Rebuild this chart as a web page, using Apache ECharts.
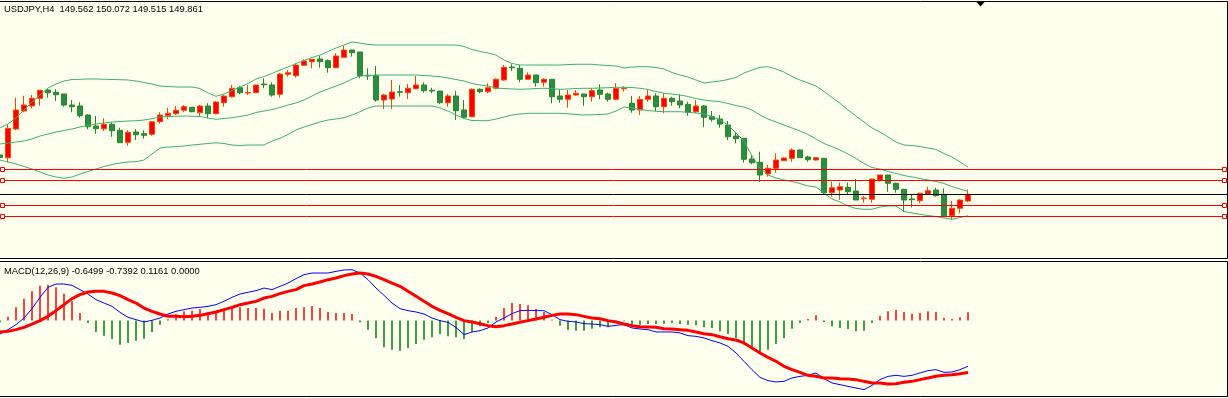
<!DOCTYPE html>
<html lang="en">
<head>
    <meta charset="UTF-8">
    <title>USDJPY,H4</title>
    <script src="https://cdn.jsdelivr.net/npm/echarts/dist/echarts.min.js"></script>
    <style>
        html, body {
            margin: 0;
            padding: 0;
            background: #FFFFF0;
        }
        #chart {
            width: 1228px;
            height: 398px;
        }
    </style>
</head>
<body>
    <div id="chart"></div>
    <script>
        // USDJPY H4 candles
        var open = [151.59,151.471,152.734,153.526,153.746,154.085,154.45,154.349,154.274,153.79,
            153.746,153.35,152.866,152.747,152.941,152.677,152.149,152.602,152.527,152.501,
            153.055,153.319,153.407,153.557,153.689,153.451,153.746,153.407,153.891,154.155,
            154.551,154.318,154.331,154.714,154.67,154.261,155.141,155.079,155.537,155.695,
            155.814,155.739,155.431,155.889,156.21,156.122,155.097,155.079,154.01,154.054,
            154.375,154.331,154.507,154.67,154.437,154.406,153.891,154.186,153.57,153.275,
            154.481,154.375,154.525,154.89,155.462,155.405,154.921,155.11,154.789,154.921,
            154.186,154.041,154.23,154.274,154.155,154.45,154.274,154.041,154.507,153.865,
            153.57,154.041,154.186,153.715,154.085,153.966,153.821,153.495,153.746,153.275,
            153.174,152.91,152.426,152.325,151.414,151.269,150.754,151.005,151.339,151.445,
            151.81,151.502,151.37,151.445,149.931,150.05,150.169,150.006,149.667,149.641,
            150.49,150.71,150.345,150.081,149.654,149.579,149.874,150.05,149.861,148.919,
            149.245,149.562];
        var high = [151.678,152.941,154.111,154.199,154.23,154.437,154.481,154.481,154.274,154.01,
            153.909,153.381,153.306,153.205,153.029,152.791,152.677,152.734,152.677,153.086,
            153.469,153.671,153.746,153.79,153.689,153.79,153.865,153.966,154.23,154.67,
            154.626,154.67,154.67,154.965,154.789,155.185,155.33,155.625,155.801,155.801,
            155.946,155.801,156.065,156.386,156.21,156.122,155.405,155.506,154.274,154.89,
            154.67,154.714,155.066,154.789,154.551,154.406,154.274,154.406,154.01,154.525,
            154.525,154.745,154.965,155.55,155.581,155.55,155.229,155.11,154.965,154.921,
            154.481,154.45,154.45,154.274,154.525,154.701,154.331,154.745,154.626,154.186,
            154.186,154.45,154.305,154.305,154.155,154.261,153.935,154.01,153.79,153.526,
            153.35,153.086,152.615,152.325,151.559,151.735,151.15,151.665,151.489,151.885,
            151.841,151.559,151.489,151.445,150.415,150.371,150.371,150.534,149.786,150.534,
            150.71,150.71,150.371,150.081,149.861,149.931,150.195,150.151,150.125,149.566,
            149.641,150.072];
        var low = [151.282,151.269,152.69,153.469,153.645,153.759,154.111,153.966,153.715,153.469,
            153.231,152.721,152.527,152.646,152.395,152.131,151.999,152.25,152.307,152.439,
            152.967,153.161,153.35,153.469,153.469,153.275,153.205,153.381,153.715,154.111,
            154.261,154.23,154.305,154.525,154.155,154.111,155.035,154.991,155.506,155.405,
            155.431,155.211,155.405,155.889,155.915,154.965,154.89,153.935,153.614,153.614,
            154.155,154.054,154.481,154.331,154.305,153.834,153.715,153.13,153.205,153.249,
            154.305,154.305,154.481,154.846,155.286,154.789,154.89,154.595,154.595,153.865,
            153.891,153.671,154.199,153.759,153.935,154.041,153.935,154.01,154.375,153.451,
            153.35,153.935,153.526,153.425,153.759,153.645,153.319,153.425,152.809,153.055,
            152.791,152.25,152.105,151.251,151.181,150.415,150.635,150.811,151.339,151.295,
            151.471,151.295,151.339,149.874,149.755,149.61,149.83,149.61,149.491,149.491,
            150.415,149.975,149.931,149.095,149.289,149.465,149.83,149.755,148.875,148.761,
            149.025,149.515];
        var close = [151.48,152.765,153.57,153.79,154.085,154.437,154.331,154.243,153.79,153.715,
            153.319,152.835,152.747,152.941,152.659,152.131,152.589,152.483,152.457,153.055,
            153.35,153.425,153.557,153.715,153.495,153.746,153.407,153.922,154.186,154.525,
            154.331,154.34,154.67,154.683,154.23,155.154,155.211,155.55,155.726,155.801,
            155.695,155.431,155.946,156.21,156.091,155.079,155.066,154.01,154.23,154.362,
            154.349,154.525,154.67,154.419,154.406,153.891,154.186,153.539,153.249,154.481,
            154.375,154.551,154.921,155.449,155.431,154.921,155.11,154.771,154.921,154.155,
            154.041,154.23,154.305,154.155,154.419,154.261,154.041,154.525,154.538,153.57,
            154.041,154.186,153.715,154.085,153.935,153.79,153.469,153.746,153.249,153.161,
            152.954,152.395,152.307,151.401,151.251,150.71,151.005,151.37,151.458,151.81,
            151.471,151.383,151.471,149.931,150.151,150.195,149.975,149.61,149.698,150.534,
            150.71,150.345,150.081,149.61,149.623,149.905,150.019,149.799,148.875,149.245,
            149.61,149.861];

        // Bollinger bands (20,2)
        var bbUpper = [152.778,152.954,153.218,153.57,153.922,154.23,154.538,154.714,154.846,154.912,
            154.921,154.934,154.934,154.921,154.912,154.903,154.89,154.846,154.78,154.714,
            154.626,154.604,154.582,154.582,154.582,154.516,154.318,154.173,154.274,154.428,
            154.582,154.736,154.934,155.044,155.176,155.33,155.462,155.616,155.748,155.88,
            155.99,156.144,156.298,156.43,156.562,156.518,156.452,156.43,156.43,156.43,
            156.43,156.43,156.43,156.43,156.43,156.43,156.43,156.43,156.364,156.232,
            156.144,156.078,155.99,155.77,155.616,155.55,155.55,155.55,155.55,155.55,
            155.55,155.572,155.581,155.581,155.581,155.55,155.528,155.506,155.418,155.462,
            155.475,155.475,155.44,155.374,155.22,155.11,155.022,154.89,154.758,154.802,
            154.846,154.912,155.0,155.198,155.33,155.449,155.475,155.374,155.242,155.044,
            154.89,154.758,154.626,154.384,154.12,153.865,153.57,153.306,153.042,152.778,
            152.602,152.382,152.162,152.03,152.008,151.964,151.898,151.832,151.656,151.502,
            151.282,151.062];
        var bbMiddle = [152.074,152.118,152.162,152.206,152.294,152.426,152.514,152.602,152.668,152.734,
            152.822,152.888,152.954,152.998,153.042,153.064,153.086,153.099,153.13,153.187,
            153.262,153.284,153.297,153.306,153.297,153.284,153.218,153.161,153.196,153.231,
            153.284,153.35,153.46,153.526,153.592,153.68,153.79,153.878,154.01,154.186,
            154.362,154.494,154.626,154.758,154.934,155.066,155.088,155.11,155.11,155.11,
            155.11,155.11,155.11,155.088,155.066,155.035,154.978,154.912,154.846,154.736,
            154.67,154.626,154.538,154.516,154.494,154.481,154.494,154.516,154.525,154.507,
            154.481,154.494,154.516,154.525,154.525,154.538,154.551,154.569,154.569,154.56,
            154.525,154.472,154.384,154.305,154.274,154.23,154.164,154.076,154.01,153.966,
            153.935,153.856,153.768,153.702,153.57,153.35,153.174,153.042,152.91,152.778,
            152.646,152.492,152.294,152.096,151.964,151.81,151.634,151.436,151.216,151.04,
            150.974,150.864,150.776,150.688,150.622,150.556,150.49,150.424,150.336,150.204,
            150.094,149.984];
        var bbLower = [151.37,151.282,151.194,151.084,150.974,150.842,150.71,150.622,150.565,150.622,
            150.754,150.864,150.974,151.084,151.172,151.238,151.282,151.295,151.37,151.634,
            151.898,151.942,151.955,151.986,152.03,152.061,152.096,152.127,152.096,152.03,
            152.008,152.03,152.03,152.03,152.206,152.325,152.492,152.69,152.822,152.932,
            153.042,153.13,153.174,153.231,153.35,153.495,153.658,153.746,153.746,153.746,
            153.746,153.746,153.746,153.746,153.746,153.658,153.526,153.35,153.196,153.108,
            153.099,153.099,153.174,153.262,153.35,153.394,153.425,153.425,153.425,153.425,
            153.425,153.403,153.372,153.35,153.359,153.372,153.394,153.526,153.702,153.658,
            153.592,153.548,153.513,153.495,153.495,153.495,153.469,153.438,153.394,153.284,
            153.13,152.91,152.558,152.206,151.546,151.018,150.71,150.578,150.49,150.424,
            150.336,150.226,150.182,149.918,149.654,149.522,149.346,149.236,149.201,149.201,
            149.302,149.346,149.346,149.104,149.038,148.981,148.928,148.884,148.818,148.761,
            148.84,148.919];

        // MACD(12,26,9)
        var macdHist = [-0.026,0.054,0.187,0.31,0.414,0.495,0.509,0.471,0.381,0.272,
            0.106,-0.035,-0.163,-0.215,-0.263,-0.343,-0.319,-0.286,-0.258,-0.163,
            -0.059,0.017,0.09,0.13,0.139,0.163,0.121,0.13,0.154,0.187,
            0.187,0.177,0.177,0.168,0.106,0.139,0.139,0.177,0.187,0.206,
            0.177,0.121,0.106,0.106,0.092,-0.026,-0.13,-0.248,-0.381,-0.414,
            -0.428,-0.39,-0.334,-0.272,-0.239,-0.192,-0.225,-0.239,-0.263,-0.163,
            -0.083,-0.035,0.05,0.177,0.248,0.234,0.215,0.163,0.121,0.012,
            -0.073,-0.13,-0.144,-0.144,-0.116,-0.097,-0.097,-0.035,-0.012,-0.059,
            -0.059,-0.05,-0.05,-0.045,-0.035,-0.05,-0.059,-0.069,-0.097,-0.106,
            -0.154,-0.192,-0.248,-0.343,-0.39,-0.452,-0.414,-0.334,-0.248,-0.116,
            -0.035,0.021,0.073,-0.021,-0.083,-0.106,-0.121,-0.154,-0.144,-0.035,
            0.069,0.13,0.149,0.121,0.097,0.106,0.13,0.121,0.035,0.021,
            0.045,0.1161];
        var macdMain = [-0.192,-0.13,-0.059,0.035,0.168,0.329,0.471,0.518,0.518,0.499,
            0.438,0.376,0.296,0.248,0.201,0.116,0.045,0.012,-0.021,0.002,
            0.035,0.092,0.13,0.154,0.177,0.187,0.201,0.225,0.272,0.329,
            0.376,0.4,0.424,0.461,0.438,0.485,0.532,0.594,0.651,0.674,
            0.674,0.674,0.698,0.717,0.722,0.674,0.58,0.461,0.357,0.248,
            0.168,0.14,0.121,0.092,0.035,-0.002,-0.026,-0.097,-0.201,-0.163,
            -0.144,-0.106,-0.021,0.035,0.097,0.14,0.144,0.14,0.14,0.083,
            0.012,-0.012,-0.021,-0.045,-0.05,-0.059,-0.083,-0.069,-0.059,-0.106,
            -0.121,-0.13,-0.163,-0.163,-0.163,-0.177,-0.215,-0.225,-0.248,-0.286,
            -0.319,-0.367,-0.461,-0.58,-0.698,-0.807,-0.854,-0.873,-0.864,-0.816,
            -0.793,-0.779,-0.745,-0.826,-0.887,-0.911,-0.935,-0.958,-0.982,-0.921,
            -0.84,-0.793,-0.779,-0.793,-0.779,-0.745,-0.712,-0.698,-0.736,-0.731,
            -0.698,-0.6499];
        var macdSignal = [-0.163,-0.154,-0.13,-0.097,-0.05,-0.002,0.059,0.14,0.225,0.31,
            0.367,0.405,0.414,0.414,0.39,0.353,0.296,0.248,0.177,0.13,
            0.092,0.059,0.059,0.054,0.059,0.073,0.097,0.121,0.154,0.187,
            0.225,0.248,0.272,0.319,0.343,0.381,0.414,0.438,0.495,0.518,
            0.547,0.58,0.603,0.637,0.66,0.674,0.66,0.627,0.58,0.532,
            0.485,0.414,0.343,0.272,0.201,0.144,0.097,0.045,-0.002,-0.021,
            -0.045,-0.073,-0.088,-0.073,-0.05,-0.026,-0.002,0.021,0.045,0.073,
            0.092,0.092,0.083,0.059,0.035,0.026,-0.002,-0.021,-0.05,-0.073,
            -0.088,-0.092,-0.097,-0.116,-0.121,-0.13,-0.14,-0.163,-0.187,-0.201,
            -0.23,-0.258,-0.277,-0.319,-0.39,-0.461,-0.523,-0.58,-0.651,-0.698,
            -0.736,-0.779,-0.793,-0.816,-0.816,-0.826,-0.831,-0.84,-0.864,-0.887,
            -0.887,-0.902,-0.897,-0.878,-0.864,-0.84,-0.816,-0.793,-0.779,-0.769,
            -0.755,-0.7392];

        // horizontal levels drawn on the chart
        var levels = [150.961, 150.477, 149.377, 148.893];

        var slots = 154; // bar slots across the window, the empty ones are the chart shift
        var last = close.length - 1;

        var cats = [];
        for (var i = 0; i < slots; i++) cats.push(i);
        var candles = open.map(function (o, i) {
            return [o, close[i], low[i], high[i]];
        });

        var marks = levels.map(function (v) {
            return { yAxis: v, lineStyle: { color: '#FF0000' } };
        });
        marks.push({ yAxis: close[last], lineStyle: { color: '#000000' } });

        var title = 'USDJPY,H4  ' + open[last].toFixed(3) + ' ' + high[last].toFixed(3) + ' ' +
            low[last].toFixed(3) + ' ' + close[last].toFixed(3);
        var macdTitle = 'MACD(12,26,9) ' + macdMain[last].toFixed(4) + ' ' + macdSignal[last].toFixed(4) +
            ' ' + macdHist[last].toFixed(4) + ' 0.0000';

        var font = '9.4px "Liberation Sans", Arial, sans-serif';

        var chart = echarts.init(document.getElementById('chart'));

        function bandLine(data, color) {
            return {
                type: 'line',
                data: data,
                symbol: 'none',
                silent: true,
                lineStyle: { color: color, width: 1 }
            };
        }

        var option = {
            animation: false,
            backgroundColor: '#FFFFF0',
            grid: [
                { left: -4, right: 0, top: 2, height: 256, outerBoundsMode: 'none' },
                { left: -4, right: 0, top: 262, height: 134, outerBoundsMode: 'none' }
            ],
            xAxis: [
                { type: 'category', data: cats, show: false },
                { type: 'category', data: cats, show: false, gridIndex: 1 }
            ],
            yAxis: [
                { type: 'value', min: 147.058, max: 158.322, show: false },
                { type: 'value', min: -1.0721, max: 0.8307, show: false, gridIndex: 1 }
            ],
            series: [
                bandLine(bbUpper, '#3CB371'),
                bandLine(bbMiddle, '#3CB371'),
                bandLine(bbLower, '#3CB371'),
                {
                    type: 'candlestick',
                    data: candles,
                    barWidth: 5,
                    silent: true,
                    itemStyle: {
                        color: '#FF0000',
                        color0: '#2E8B45',
                        borderColor: '#FF4500',
                        borderColor0: '#228B22',
                        borderWidth: 1
                    },
                    markLine: {
                        silent: true,
                        symbol: 'none',
                        label: { show: false },
                        lineStyle: { width: 1, type: 'solid' },
                        data: marks
                    }
                },
                {
                    type: 'bar',
                    xAxisIndex: 1,
                    yAxisIndex: 1,
                    data: macdHist,
                    barWidth: 1.5,
                    silent: true,
                    itemStyle: {
                        color: function (p) { return p.value >= 0 ? '#FF0000' : '#008000'; }
                    }
                },
                {
                    type: 'line',
                    xAxisIndex: 1,
                    yAxisIndex: 1,
                    data: macdMain,
                    symbol: 'none',
                    silent: true,
                    lineStyle: { color: '#0000FF', width: 1 }
                },
                {
                    type: 'line',
                    xAxisIndex: 1,
                    yAxisIndex: 1,
                    data: macdSignal,
                    symbol: 'none',
                    silent: true,
                    lineStyle: { color: '#FF0000', width: 3 }
                }
            ]
        };

        chart.setOption(option);

        // panel frames, texts and the little anchors at both ends of the levels
        var gfx = [
            { type: 'rect', z: 100, shape: { x: -1.5, y: 1.5, width: 1229, height: 257 },
              style: { fill: 'none', stroke: '#000', lineWidth: 1 } },
            { type: 'rect', z: 100, shape: { x: -1.5, y: 261.5, width: 1229, height: 135 },
              style: { fill: 'none', stroke: '#000', lineWidth: 1 } },
            { type: 'polygon', z: 100, shape: { points: [[976, 1.5], [985, 1.5], [980.5, 6.5]] },
              style: { fill: '#000' } },
            { type: 'text', z: 100, x: 4, y: 9.5,
              style: { text: title, font: font, fill: '#000', verticalAlign: 'middle' } },
            { type: 'text', z: 100, x: 4, y: 271,
              style: { text: macdTitle, font: font, fill: '#000', verticalAlign: 'middle' } }
        ];
        levels.forEach(function (v) {
            var py = Math.round(chart.convertToPixel({ yAxisIndex: 0 }, v)) + 0.5;
            [0.5, 1222.5].forEach(function (px) {
                gfx.push({ type: 'rect', z: 100, shape: { x: px, y: py - 2, width: 4, height: 4 },
                    style: { fill: '#FFFFF0', stroke: '#FF0000', lineWidth: 1 } });
            });
        });
        chart.setOption({ graphic: gfx });
    </script>
</body>
</html>
